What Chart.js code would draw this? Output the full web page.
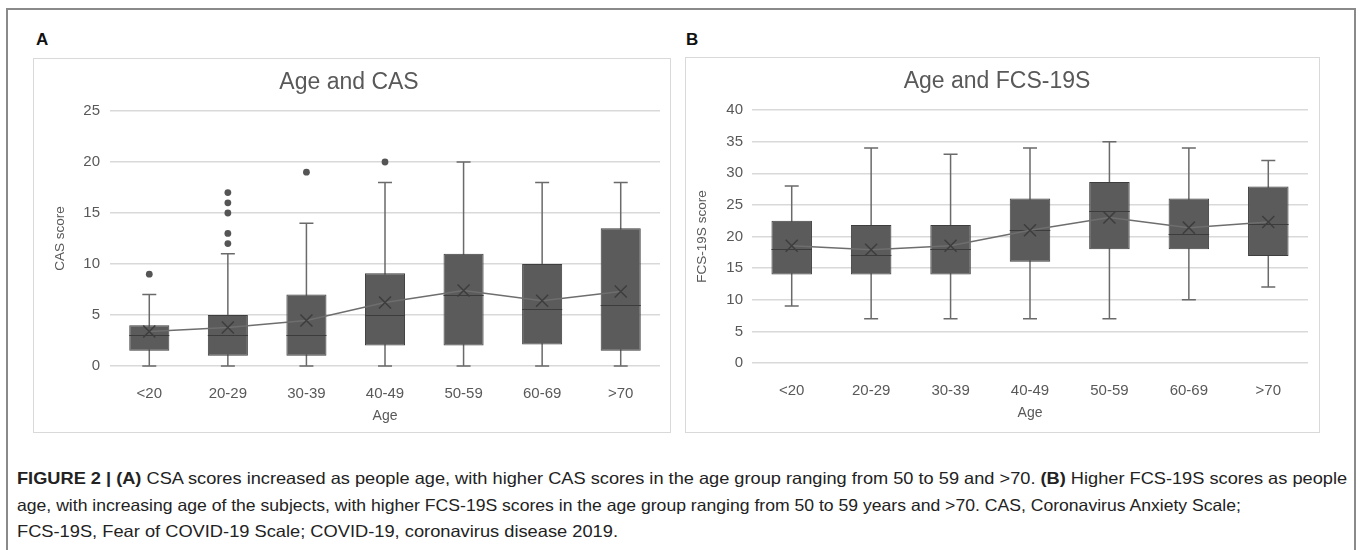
<!DOCTYPE html>
<html>
<head>
<meta charset="utf-8">
<script src="https://cdn.jsdelivr.net/npm/chart.js@4.4.1/dist/chart.umd.min.js"></script>
<style>
  html, body { margin:0; padding:0; background:#fff; }
  body { width:1360px; height:550px; position:relative; overflow:hidden; font-family:"Liberation Sans", Arial, sans-serif; }
  #frame { position:absolute; left:6px; top:8px; width:1350px; height:560px; border:2px solid #8a8a8a; border-bottom:none; box-sizing:border-box; }
  .letter { position:absolute; font-weight:bold; font-size:17px; color:#111; }
  .panel { position:absolute; border:1px solid #d9d9d9; box-sizing:border-box; }
  .panel canvas { display:block; }
  #caption { position:absolute; left:17px; top:465px; font-size:16.5px; line-height:26.5px; color:#222; white-space:nowrap; }
  #caption div { display:block; width:max-content; transform-origin:0 50%; }
  #caption b { font-weight:bold; }
</style>
</head>
<body>
<div id="frame"></div>
<div class="letter" style="left:36px; top:30px;">A</div>
<div class="letter" style="left:686px; top:30px;">B</div>
<div class="panel" style="left:33px; top:58px; width:638px; height:375px;"><canvas id="chartA" width="636" height="373"></canvas></div>
<div class="panel" style="left:685px; top:57px; width:635px; height:376px;"><canvas id="chartB" width="633" height="374"></canvas></div>
<div id="caption">
  <div data-w="1330"><b>FIGURE 2 | (A)</b> CSA scores increased as people age, with higher CAS scores in the age group ranging from 50 to 59 and &gt;70. <b>(B)</b> Higher FCS-19S scores as people</div>
  <div data-w="1224">age, with increasing age of the subjects, with higher FCS-19S scores in the age group ranging from 50 to 59 years and &gt;70. CAS, Coronavirus Anxiety Scale;</div>
  <div data-w="601">FCS-19S, Fear of COVID-19 Scale; COVID-19, coronavirus disease 2019.</div>
</div>
<script>
// ---------- data ----------
const ageGroups = ['<20', '20-29', '30-39', '40-49', '50-59', '60-69', '>70'];

// Panel A: CAS score
const casMin      = [0, 0, 0, 0, 0, 0, 0];
const casQ1       = [1.5, 1, 1, 2, 2, 2.1, 1.5];
const casMedian   = [3, 3, 3, 5, 7, 5.6, 6];
const casQ3       = [4, 5, 7, 9.1, 11, 10, 13.5];
const casMax      = [7, 11, 14, 18, 20, 18, 18];
const casMean     = [3.38, 3.77, 4.46, 6.23, 7.4, 6.4, 7.3];
const casOutliers = [[9], [12, 13, 15, 16, 17], [19], [20], [], [], []];
const casTicks    = { min: 0, max: 25, step: 5 };

// Panel B: FCS-19S score
const fcsMin      = [9, 7, 7, 7, 7, 10, 12];
const fcsQ1       = [14, 14, 14, 16, 18, 18, 16.9];
const fcsMedian   = [18, 17, 18, 21, 24, 20.4, 21.9];
const fcsQ3       = [22.5, 21.8, 21.8, 26, 28.6, 26, 27.9];
const fcsMax      = [28, 34, 33, 34, 35, 34, 32];
const fcsMean     = [18.55, 17.9, 18.55, 21, 23, 21.4, 22.3];
const fcsOutliers = [[], [], [], [], [], [], []];
const fcsTicks    = { min: 0, max: 40, step: 5 };

// ---------- caption fit (each line to its width in the reference) ----------
document.querySelectorAll('#caption div').forEach(l => {
  const s = Number(l.dataset.w) / l.getBoundingClientRect().width;
  l.style.transform = 'scaleX(' + s.toFixed(4) + ')';
});

// ---------- drawing ----------
const FONT = '"Liberation Sans", Arial, sans-serif';
const TEXT = '#595959';

const boxExtras = {
  id: 'boxExtras',
  beforeDatasetsDraw(chart, args, opts) {
    const {ctx, scales: {x, y}} = chart;
    const cap = opts.capWidth / 2;
    ctx.save();
    ctx.strokeStyle = '#6a6a6a';
    ctx.lineWidth = 1.5;
    opts.min.forEach((mn, i) => {
      const cx = x.getPixelForValue(i);
      const yMin = y.getPixelForValue(mn), yMax = y.getPixelForValue(opts.max[i]);
      ctx.beginPath();
      ctx.moveTo(cx, yMin); ctx.lineTo(cx, yMax);
      ctx.moveTo(cx - cap, yMin); ctx.lineTo(cx + cap, yMin);
      ctx.moveTo(cx - cap, yMax); ctx.lineTo(cx + cap, yMax);
      ctx.stroke();
    });
    ctx.restore();
  },
  afterDatasetDraw(chart, args, opts) {
    if (args.meta.type !== 'bar') return;
    const {ctx, scales: {y}} = chart;
    ctx.save();
    ctx.strokeStyle = '#3c3c3c';
    ctx.lineWidth = 1.2;
    args.meta.data.forEach((bar, i) => {
      const p = bar.getProps(['x', 'width'], true);
      const ym = Math.round(y.getPixelForValue(opts.median[i])) + 0.5;
      ctx.beginPath();
      ctx.moveTo(p.x - p.width / 2, ym); ctx.lineTo(p.x + p.width / 2, ym);
      ctx.stroke();
    });
    ctx.restore();
  }
};

function makeChart(id, cfg) {
  const outlierPts = [];
  cfg.outliers.forEach((arr, i) => arr.forEach(v => outlierPts.push({x: ageGroups[i], y: v})));
  return new Chart(document.getElementById(id), {
    type: 'bar',
    data: {
      labels: ageGroups,
      datasets: [
        {
          type: 'line', label: 'Mean', data: cfg.mean,
          borderColor: '#6e6e6e', borderWidth: 1.5, tension: 0, fill: false,
          pointStyle: 'crossRot', pointRadius: 8.5, pointBorderColor: '#3d3d3d', pointBorderWidth: 1.5,
          pointBackgroundColor: 'transparent'
        },
        {
          type: 'scatter', label: 'Outliers', data: outlierPts,
          pointRadius: 3.4, pointBackgroundColor: '#555555', pointBorderColor: '#555555', pointBorderWidth: 0
        },
        {
          type: 'bar', label: 'IQR', data: cfg.q1.map((v, i) => [v, cfg.q3[i]]),
          backgroundColor: '#5b5b5b', borderColor: '#3e3e3e', borderWidth: 1, borderSkipped: false,
          barPercentage: 0.51, categoryPercentage: 1
        }
      ]
    },
    options: {
      responsive: false, animation: false,
      layout: { padding: { left: 0, right: cfg.padRight, top: 0, bottom: 0 } },
      plugins: {
        legend: { display: false }, tooltip: { enabled: false },
        title: {
          display: true, text: cfg.title, color: TEXT,
          font: { family: FONT, size: 23, weight: 'normal', lineHeight: 1.2 },
          padding: { top: 10, bottom: 14.4 }
        },
        boxExtras: { min: cfg.min, max: cfg.max, median: cfg.median, capWidth: 14 }
      },
      scales: {
        x: {
          grid: { display: false }, border: { display: false },
          ticks: { color: TEXT, font: { family: FONT, size: 15 }, padding: 11 },
          title: { display: true, text: 'Age', color: TEXT, font: { family: FONT, size: 14 }, padding: { top: 4, bottom: cfg.xTitlePad } },
          afterFit(s) { s.height = cfg.xHeight; }
        },
        y: {
          min: cfg.ticks.min, max: cfg.ticks.max,
          grid: { color: '#d9d9d9', lineWidth: 1.5, drawTicks: false }, border: { display: false },
          ticks: { stepSize: cfg.ticks.step, color: TEXT, font: { family: FONT, size: 15 }, padding: cfg.yTickPad },
          title: { display: true, text: cfg.yTitle, color: TEXT, font: { family: FONT, size: 13.5 }, padding: { top: cfg.yTitlePad, bottom: 4 } },
          afterFit(s) { s.width = cfg.yWidth; }
        }
      }
    },
    plugins: [boxExtras]
  });
}

makeChart('chartA', {
  title: 'Age and CAS', yTitle: 'CAS score',
  min: casMin, q1: casQ1, median: casMedian, q3: casQ3, max: casMax, mean: casMean, outliers: casOutliers, ticks: casTicks,
  padRight: 6, yWidth: 76, yTickPad: 10, yTitlePad: 18, xHeight: 66, xTitlePad: 7
});
makeChart('chartB', {
  title: 'Age and FCS-19S', yTitle: 'FCS-19S score',
  min: fcsMin, q1: fcsQ1, median: fcsMedian, q3: fcsQ3, max: fcsMax, mean: fcsMean, outliers: fcsOutliers, ticks: fcsTicks,
  padRight: 11, yWidth: 66, yTickPad: 9, yTitlePad: 8, xHeight: 69, xTitlePad: 10
});
</script>
</body>
</html>
